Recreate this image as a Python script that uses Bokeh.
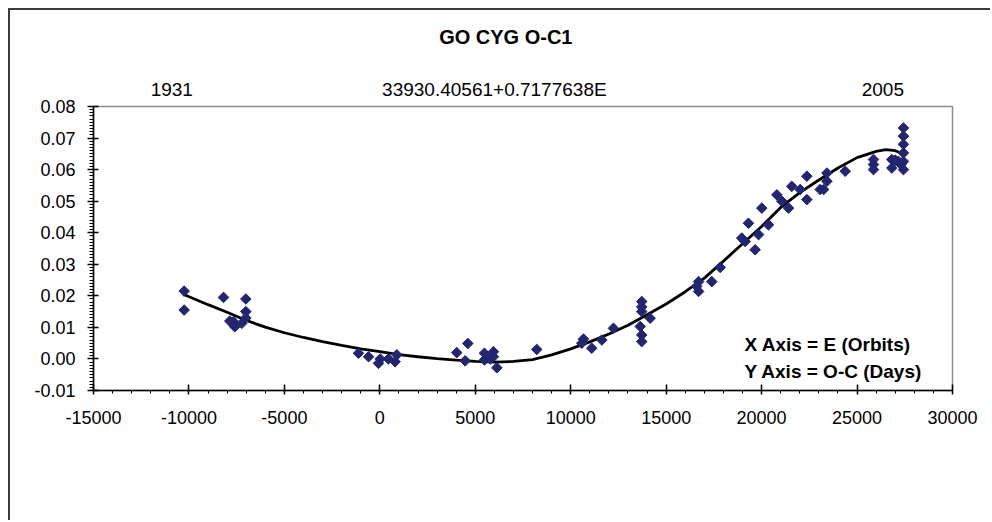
from bokeh.plotting import figure
from bokeh.models import Range1d, FixedTicker, NumeralTickFormatter, Label, LinearAxis
from bokeh.embed import file_html
from bokeh.resources import INLINE

# ---- data ----
obs_E = [-10250, -10250, -8190, -7020, -7020, -7020, -7230, -7660, -7600, -7860,
         -1120, -590, -70, 20, 450, 800, 890,
         4030, 4610, 4470, 5480, 5480, 5780, 5950, 5950, 6130,
         8220, 10580, 10670, 11100, 11630, 12240,
         13720, 13720, 13720, 14160, 13640, 13720, 13720,
         16600, 16700, 16700, 17390, 17830,
         18960, 19140, 19310, 19660, 19840, 20010, 20360, 20800, 21060, 21410,
         21580, 22020, 22370, 22370, 23070, 23420, 23420, 23250, 24380,
         25860, 25860, 25860, 26820, 26820, 27000, 27170, 27300,
         27430, 27430, 27430, 27430, 27430, 27430]
obs_OC = [0.0215, 0.0155, 0.0195, 0.0190, 0.0150, 0.0130, 0.0113, 0.0118, 0.0102, 0.0120,
          0.0018, 0.0007, -0.0014, 0.0000, 0.0000, -0.0009, 0.0013,
          0.0020, 0.0049, -0.0006, 0.0018, -0.0003, 0.0000, 0.0023, 0.0007, -0.0028,
          0.0030, 0.0050, 0.0063, 0.0034, 0.0060, 0.0097,
          0.0182, 0.0150, 0.0076, 0.0129, 0.0103, 0.0055, 0.0165,
          0.0230, 0.0245, 0.0214, 0.0245, 0.0290,
          0.0383, 0.0372, 0.0430, 0.0346, 0.0394, 0.0478, 0.0425, 0.0520, 0.0500, 0.0478,
          0.0547, 0.0537, 0.0579, 0.0505, 0.0537, 0.0589, 0.0563, 0.0537, 0.0595,
          0.0632, 0.0616, 0.0600, 0.0632, 0.0605, 0.0630, 0.0626, 0.0616,
          0.0732, 0.0706, 0.0680, 0.0653, 0.0626, 0.0600]

fit_E = [-10300, -9000, -8000, -7000, -6000, -5000, -4000, -3000, -2000, -1000,
         0, 1000, 2000, 3000, 4000, 5000, 6000, 7000, 8000, 9000,
         10000, 11000, 12000, 13000, 14000, 15000, 16000, 17000, 18000, 19000,
         20000, 21000, 22000, 23000, 24000, 25000, 26000, 26500, 27000, 27500]
fit_OC = [0.0205, 0.0172, 0.0148, 0.0122, 0.0101, 0.0083, 0.0068, 0.0055, 0.0043, 0.0032,
          0.0023, 0.0014, 0.0007, 0.0001, -0.0004, -0.0008, -0.0010, -0.0008, -0.0002, 0.0013,
          0.0032, 0.0054, 0.0079, 0.0107, 0.0140, 0.0174, 0.0213, 0.0256, 0.0310, 0.0365,
          0.0420, 0.0480, 0.0527, 0.0567, 0.0605, 0.0638, 0.0658, 0.0663, 0.0660, 0.0648]

x_ticks = [-15000, -10000, -5000, 0, 5000, 10000, 15000, 20000, 25000, 30000]
y_ticks = [-0.01, 0.0, 0.01, 0.02, 0.03, 0.04, 0.05, 0.06, 0.07, 0.08]

title_text = "GO CYG O-C1"
title_pos = 6600
top_texts = ["1931", "33930.40561+0.7177638E", "2005"]
top_text_pos = [-10900, 6000, 26350]
note_x = "X Axis = E (Orbits)"
note_y = "Y Axis = O-C (Days)"

FONT = "Liberation Sans"

p = figure(width=982, height=512, output_backend="svg", toolbar_location=None,
           x_range=Range1d(-15000, 30000), y_range=Range1d(-0.01, 0.08),
           min_border_left=83, min_border_right=40, min_border_top=96, min_border_bottom=132)
p.styles = {"margin-left": "8px", "margin-top": "8px",
            "border-left": "2px solid #3c3c3c", "border-top": "2px solid #3c3c3c"}

p.xgrid.visible = False
p.ygrid.visible = False
p.outline_line_color = "#8c8c8c"
p.outline_line_width = 1.5
p.background_fill_color = "white"
p.border_fill_color = "white"

x_minor = [v for v in range(-15000, 30001, 1000)]
y_minor = [round(-0.01 + i * 0.001, 4) for i in range(91)]
p.xaxis.ticker = FixedTicker(ticks=x_ticks, minor_ticks=x_minor)
p.yaxis.ticker = FixedTicker(ticks=y_ticks, minor_ticks=y_minor)
p.xaxis.formatter = NumeralTickFormatter(format="0")
p.yaxis.formatter = NumeralTickFormatter(format="0.00")

for ax in (p.xaxis, p.yaxis):
    ax.axis_line_color = "black"
    ax.axis_line_width = 1.5
    ax.major_tick_line_color = "black"
    ax.major_tick_line_width = 1.5
    ax.minor_tick_line_color = "black"
    ax.minor_tick_line_width = 1
    ax.major_label_text_font = FONT
    ax.major_label_text_font_size = "18px"
    ax.major_label_text_color = "black"

p.xaxis.major_tick_in = 6
p.xaxis.major_tick_out = 4
p.xaxis.minor_tick_in = 0
p.xaxis.minor_tick_out = 3
p.xaxis.major_label_standoff = 16

p.yaxis.major_tick_in = 5
p.yaxis.major_tick_out = 6
p.yaxis.minor_tick_in = 0
p.yaxis.minor_tick_out = 4
p.yaxis.major_label_standoff = 12


def text_axis(positions, texts, size, standoff, bold=False):
    ax = LinearAxis(ticker=FixedTicker(ticks=positions, minor_ticks=[]),
                    major_label_overrides={k: t for k, t in zip(positions, texts)})
    ax.axis_line_color = None
    ax.major_tick_line_color = None
    ax.minor_tick_line_color = None
    ax.major_tick_in = 0
    ax.major_tick_out = 0
    ax.major_label_standoff = standoff
    ax.major_label_text_font = FONT
    ax.major_label_text_font_size = size
    ax.major_label_text_font_style = "bold" if bold else "normal"
    ax.major_label_text_color = "black"
    return ax


# top annotation row (epoch years and ephemeris), then the chart title above it
p.add_layout(text_axis(top_text_pos, top_texts, "19px", 7), "above")
p.add_layout(text_axis([title_pos], [title_text], "20px", 28, bold=True), "above")

# fitted trend curve and observations
p.line(fit_E, fit_OC, line_color="black", line_width=2.8)
p.scatter(obs_E, obs_OC, marker="square", angle=0.785398, size=7.5,
          fill_color="#23256f", line_color="#23256f")

for yy, txt in ((0.0045, note_x), (-0.0041, note_y)):
    p.add_layout(Label(x=19100, y=yy, text=txt, text_font=FONT, text_font_size="19px",
                       text_font_style="bold", text_color="black",
                       text_align="left", text_baseline="alphabetic"))

open("out.html", "w").write(file_html(p, INLINE))
